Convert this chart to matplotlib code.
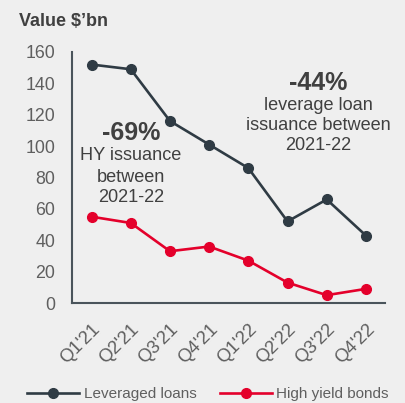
import matplotlib
matplotlib.use("Agg")
import matplotlib.pyplot as plt

quarters = ["Q1'21", "Q2'21", "Q3'21", "Q4'21", "Q1'22", "Q2'22", "Q3'22", "Q4'22"]
leveraged_loans = [152, 149, 116, 101, 86, 52, 66, 43]
high_yield_bonds = [55, 51, 33, 36, 27, 13, 5, 9]

BG = "#efefef"
DARK = "#2f3b44"
RED = "#e4002b"
GREY = "#5f5f5f"

plt.rcParams['font.family'] = ['Liberation Sans', 'DejaVu Sans']

W, H = 406, 403
fig = plt.figure(figsize=(W / 100, H / 100), dpi=100, facecolor=BG)
ax = fig.add_axes([72 / W, 1 - 303 / H, (385.5 - 72) / W, (303 - 52) / H], facecolor=BG)

x = list(range(len(quarters)))
ax.plot(x, leveraged_loans, color=DARK, lw=1.9, marker='o', ms=7, label="Leveraged loans", clip_on=False)
ax.plot(x, high_yield_bonds, color=RED, lw=1.9, marker='o', ms=7, label="High yield bonds", clip_on=False)

ax.set_xlim(-0.5, len(quarters) - 0.5)
ax.set_ylim(0, 160)
ax.set_yticks(range(0, 161, 20))
ax.set_xticks(x)
ax.set_xticklabels(quarters, rotation=45, ha='right', rotation_mode='anchor')
ax.tick_params(axis='y', length=0, labelsize=12.8, colors=GREY, pad=12)
ax.tick_params(axis='x', length=0, labelsize=13.3, colors=GREY, pad=13)
for s in ['top', 'right']:
    ax.spines[s].set_visible(False)
for s in ['left', 'bottom']:
    ax.spines[s].set_color("#4a545b")
    ax.spines[s].set_linewidth(1.5)

fig.text(19 / W, 1 - 21 / H, "Value $\u2019bn", fontsize=13, fontweight='bold', color="#404040",
         ha='left', va='center')

TXT = "#404040"
def ftext(px, py, s, **kw):
    fig.text(px / W, 1 - py / H, s, ha='center', va='center', color=TXT, **kw)

ftext(131, 133, "-69%", fontsize=18, fontweight='bold')
ftext(131, 156, "HY issuance", fontsize=13.1)
ftext(131, 177, "between", fontsize=13.1)
ftext(131, 197, "2021-22", fontsize=13.1)

ftext(318, 83, "-44%", fontsize=18, fontweight='bold')
ftext(318, 106, "leverage loan", fontsize=13.1)
ftext(318, 126, "issuance between", fontsize=13.1)
ftext(318, 146, "2021-22", fontsize=13.1)

fig.legend(loc='center', bbox_to_anchor=(208 / W, 1 - 394 / H), ncol=2, frameon=False,
           fontsize=11, handlelength=3.4, columnspacing=1.5, handletextpad=0.3,
           labelcolor=GREY)

fig.savefig("out.png", dpi=100, facecolor=BG)
